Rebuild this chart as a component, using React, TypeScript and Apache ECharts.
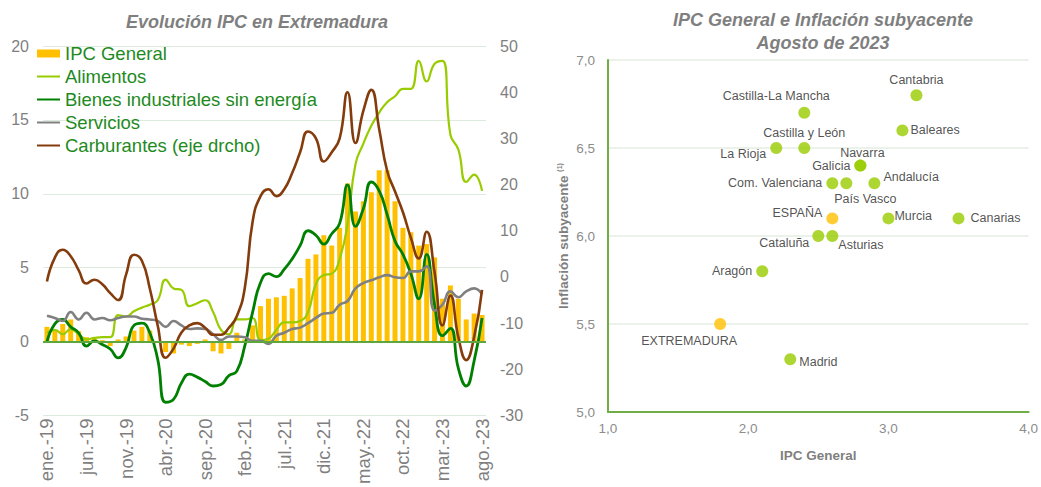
import React, { useEffect, useRef } from "react";
import * as echarts from "echarts";

const FONT = "'Liberation Sans', Arial, sans-serif";

const months = [
  "ene.-19","feb.-19","mar.-19","abr.-19","may.-19","jun.-19","jul.-19","ago.-19","sep.-19","oct.-19","nov.-19","dic.-19",
  "ene.-20","feb.-20","mar.-20","abr.-20","may.-20","jun.-20","jul.-20","ago.-20","sep.-20","oct.-20","nov.-20","dic.-20",
  "ene.-21","feb.-21","mar.-21","abr.-21","may.-21","jun.-21","jul.-21","ago.-21","sep.-21","oct.-21","nov.-21","dic.-21",
  "ene.-22","feb.-22","mar.-22","abr.-22","may.-22","jun.-22","jul.-22","ago.-22","sep.-22","oct.-22","nov.-22","dic.-22",
  "ene.-23","feb.-23","mar.-23","abr.-23","may.-23","jun.-23","jul.-23","ago.-23",
];

const ipcGeneral = [
  1.0, 0.8, 1.2, 1.5, 0.7, 0.3, 0.2, 0.1, -0.3, 0.15, 0.35, 0.75,
  1.0, 0.75, 0.0, -0.7, -0.8, -0.2, -0.3, -0.15, 0.15, -0.65, -0.8, -0.5,
  0.6, 0.15, 1.1, 2.4, 2.9, 3.0, 3.1, 3.6, 4.3, 5.6, 5.9, 7.2,
  6.5, 7.7, 10.7, 8.8, 9.5, 10.1, 11.6, 11.6, 9.5, 7.7, 7.4, 6.5,
  6.6, 5.7, 2.9, 3.8, 2.9, 1.5, 1.9, 1.8,
];

const alimentos = [
  0.6, 0.8, 0.5, 0.85, 0.5, 0.15, 0.25, 0.3, 0.3, 1.8, 1.7, 2.05,
  2.3, 2.5, 2.8, 4.2, 3.6, 3.5, 2.4, 2.6, 2.8, 2.0, 0.8, 0.5,
  1.5, 1.5, 1.6, 0.1, 0.2, 0.8, 1.3, 1.3, 1.4, 2.0, 3.9, 4.5,
  4.6, 5.6, 8.0, 12.0, 13.4, 14.6, 15.5, 16.2, 16.6, 17.1, 17.1, 19.0,
  17.6, 18.8, 19.0, 14.0, 13.0, 10.8, 11.3, 10.2,
];

const bienesIndustriales = [
  0.0, 1.2, 1.5, 1.0, 0.6, -0.3, 0.05, -0.2, -0.5, -1.1, -0.4, 1.1,
  1.25, 0.6, -1.2, -4.1, -3.9, -2.8, -2.2, -2.4, -2.7, -3.0, -2.9, -2.3,
  -2.0, -0.3, 2.0, 4.0, 4.6, 4.4, 4.9, 5.6, 6.5, 7.5, 7.2, 6.6,
  7.3, 8.0, 10.6, 7.8, 9.0, 10.8, 10.2, 8.6, 6.8, 5.9, 4.6, 2.9,
  5.9, 2.5, 0.4, 0.9, -1.8, -3.0, -1.3, 1.6,
];

const servicios = [
  1.75, 1.6, 1.4, 2.0, 1.5, 1.95, 1.5, 1.6, 1.45, 1.6, 1.7, 1.7,
  1.55, 1.5, 1.4, 1.0, 1.4, 1.1, 0.85, 0.9, 0.85, 0.5, 0.1, 0.35,
  0.35, 0.3, 0.05, 0.05, -0.15, 0.4, 0.6, 0.85, 0.95, 1.25, 1.6, 1.9,
  1.95, 2.5, 2.75, 3.6, 3.96, 4.15, 4.35, 4.5, 4.35, 4.3, 4.75, 4.75,
  5.1, 2.1, 2.5, 3.4, 3.0, 3.4, 3.6, 3.2,
];

const carburantes = [
  -1.0, 4.2, 5.9, 4.5, 1.5, -1.4, -0.6, -1.6, -3.5, -5.0, 0.5, 4.8,
  3.5, -2.5, -10.5, -17.5, -15.5, -12.0, -10.5, -10.0, -11.0, -12.5, -12.5, -11.0,
  -8.5, -2.5, 12.0, 17.5, 19.0, 17.5, 19.0, 22.5, 27.0, 31.5, 30.0, 25.0,
  27.0, 30.0, 40.0, 29.0, 36.0, 40.5, 32.0, 23.0, 18.5, 14.0, 8.5, 4.0,
  9.8, 1.0, -10.5, -4.0, -13.0, -18.0, -13.0, -2.8,
];

const regions = [
  "Cantabria", "Castilla-La Mancha", "Baleares", "Castilla y León", "La Rioja", "Navarra",
  "Galicia", "Com. Valenciana", "País Vasco", "Andalucía", "ESPAÑA", "Murcia",
  "Canarias", "Cataluña", "Asturias", "Aragón", "EXTREMADURA", "Madrid",
];
const ipcGeneralAgo23 = [3.2, 2.4, 3.1, 2.4, 2.2, 2.8, 2.8, 2.6, 2.7, 2.9, 2.6, 3.0, 3.5, 2.5, 2.6, 2.1, 1.8, 2.3];
const subyacenteAgo23 = [6.8, 6.7, 6.6, 6.5, 6.5, 6.4, 6.4, 6.3, 6.3, 6.3, 6.1, 6.1, 6.1, 6.0, 6.0, 5.8, 5.5, 5.3];
const highlighted = ["ESPAÑA", "EXTREMADURA"];

// label placement (style only)
const labelPlacement: Record<string, any> = {
  "Cantabria": { position: "top", distance: 3 },
  "Castilla-La Mancha": { position: "top", distance: 4, offset: [-28, 0] },
  "Baleares": { position: "right", distance: 2 },
  "Castilla y León": { position: "top", distance: 3 },
  "La Rioja": { position: "left", distance: 4, offset: [0, 6] },
  "Navarra": { position: "top", distance: 0, offset: [2, 0] },
  "Galicia": { position: "left", distance: 4 },
  "Com. Valenciana": { position: "left", distance: 4 },
  "País Vasco": { position: "bottom", distance: 3, offset: [19, 0] },
  "Andalucía": { position: "right", distance: 3, offset: [0, -6] },
  "ESPAÑA": { position: "left", distance: 4, offset: [0, -5] },
  "Murcia": { position: "right", distance: 0, offset: [0, -2] },
  "Canarias": { position: "right", distance: 6 },
  "Cataluña": { position: "left", distance: 3, offset: [0, 7] },
  "Asturias": { position: "right", distance: 0, offset: [0, 9] },
  "Aragón": { position: "left", distance: 4 },
  "EXTREMADURA": { position: "bottom", distance: 4, offset: [-31, 0] },
  "Madrid": { position: "right", distance: 3, offset: [0, 3] },
};

const comma = (v: number) => v.toFixed(1).replace(".", ",");

export default function App() {
  const ref = useRef<HTMLDivElement>(null);

  useEffect(() => {
    document.body.style.margin = "0";
    if (!ref.current) return;
    const chart = echarts.init(ref.current, undefined, { renderer: "svg" });

    const gray = "#7f7f7f";
    const lineSeries = (name: string, data: number[], color: string, width: number, yAxisIndex = 0) => ({
      name,
      type: "line",
      xAxisIndex: 0,
      yAxisIndex,
      data,
      smooth: true,
      symbol: "none",
      lineStyle: { color, width },
      itemStyle: { color },
    });

    const scatterData = regions.map((r, i) => ({
      name: r,
      value: [ipcGeneralAgo23[i], subyacenteAgo23[i]],
      itemStyle: { color: highlighted.includes(r) ? "#ffc000" : "#99cc00" },
      label: { show: true, ...labelPlacement[r] },
    }));

    const titleStyle = {
      fontSize: 18,
      fontWeight: "bold",
      fontStyle: "italic",
      fontFamily: FONT,
      fill: gray,
      align: "center",
      verticalAlign: "middle",
    };

    const hiddenSymbol = { opacity: 0 };

    chart.setOption({
      animation: false,
      textStyle: { fontFamily: FONT },
      graphic: [
        { type: "text", x: 257, y: 22, style: { text: "Evolución IPC en Extremadura", ...titleStyle } },
        { type: "text", x: 823, y: 20, style: { text: "IPC General e Inflación subyacente", ...titleStyle } },
        { type: "text", x: 823, y: 43, style: { text: "Agosto de 2023", ...titleStyle } },
      ],
      legend: {
        orient: "vertical",
        left: 31,
        top: 39,
        itemWidth: 23,
        itemHeight: 8,
        itemGap: 4,
        textStyle: { color: "#1e8a1e", fontSize: 18.5, lineHeight: 19, fontFamily: FONT },
        data: [
          { name: "IPC General", icon: "rect" },
          { name: "Alimentos", itemStyle: hiddenSymbol },
          { name: "Bienes industriales sin energía", itemStyle: hiddenSymbol },
          { name: "Servicios", itemStyle: hiddenSymbol },
          { name: "Carburantes (eje drcho)", itemStyle: hiddenSymbol },
        ],
      },
      grid: [
        { left: 43, top: 46, width: 443, height: 372 },
        { left: 608, top: 60, width: 424, height: 352 },
      ],
      xAxis: [
        {
          type: "category",
          gridIndex: 0,
          data: months,
          boundaryGap: true,
          axisLine: { show: false },
          axisTick: { show: false },
          axisLabel: { rotate: 90, interval: 4, color: gray, fontSize: 18.5, margin: 3, fontFamily: FONT },
          splitLine: { show: false },
        },
        {
          type: "value",
          gridIndex: 1,
          min: 1,
          max: 4,
          interval: 1,
          axisLine: { show: true, lineStyle: { color: "#70ad47", width: 2 } },
          axisTick: { show: false },
          splitLine: { show: false },
          axisLabel: { formatter: comma, color: "#8c8c8c", fontSize: 13.5, margin: 9, fontFamily: FONT },
          name: "IPC General",
          nameLocation: "middle",
          nameGap: 36,
          nameTextStyle: { color: gray, fontSize: 13.5, fontWeight: "bold", fontFamily: FONT },
        },
      ],
      yAxis: [
        {
          type: "value",
          gridIndex: 0,
          min: -5,
          max: 20,
          interval: 5,
          axisLine: { show: false },
          axisTick: { show: false },
          axisLabel: { color: gray, fontSize: 16, margin: 14, fontFamily: FONT },
          splitLine: { lineStyle: { color: "#dcebdc", width: 1 } },
        },
        {
          type: "value",
          gridIndex: 0,
          position: "right",
          min: -30,
          max: 50,
          interval: 10,
          axisLine: { show: false },
          axisTick: { show: false },
          axisLabel: { color: gray, fontSize: 16, margin: 14, fontFamily: FONT },
          splitLine: { show: false },
        },
        {
          type: "value",
          gridIndex: 1,
          min: 5,
          max: 7,
          interval: 0.5,
          axisLine: { show: true, lineStyle: { color: "#70ad47", width: 2 } },
          axisTick: { show: false },
          axisLabel: { formatter: comma, color: "#8c8c8c", fontSize: 13.5, margin: 13, fontFamily: FONT },
          splitLine: { lineStyle: { color: "#e3eee3", width: 1.5 } },
          name: "Inflación subyacente {s|(1)}",
          nameLocation: "middle",
          nameGap: 38,
          nameTextStyle: {
            color: gray,
            fontSize: 13.5,
            fontWeight: "bold",
            fontFamily: FONT,
            rich: { s: { fontSize: 7, color: gray, fontFamily: FONT, verticalAlign: "top", lineHeight: 14 } },
          },
        },
      ],
      series: [
        {
          name: "IPC General",
          type: "bar",
          xAxisIndex: 0,
          yAxisIndex: 0,
          data: ipcGeneral,
          barWidth: 5,
          itemStyle: { color: "#ffc000" },
          markLine: {
            silent: true,
            symbol: ["none", "none"],
            label: { show: false },
            lineStyle: { color: "#5ea73f", width: 2, type: "solid" },
            data: [{ yAxis: 0 }],
          },
        },
        lineSeries("Alimentos", alimentos, "#99cc00", 2.2),
        lineSeries("Bienes industriales sin energía", bienesIndustriales, "#008000", 2.8),
        lineSeries("Servicios", servicios, "#808080", 2.6),
        lineSeries("Carburantes (eje drcho)", carburantes, "#843c0c", 2.6, 1),
        {
          name: "Regiones",
          type: "scatter",
          xAxisIndex: 1,
          yAxisIndex: 2,
          symbolSize: 12,
          data: scatterData,
          label: {
            show: true,
            formatter: "{b}",
            color: "#262626",
            fontSize: 12.5,
            fontFamily: FONT,
          },
        },
      ],
    });

    return () => chart.dispose();
  }, []);

  return <div ref={ref} style={{ width: 1041, height: 487 }} />;
}
